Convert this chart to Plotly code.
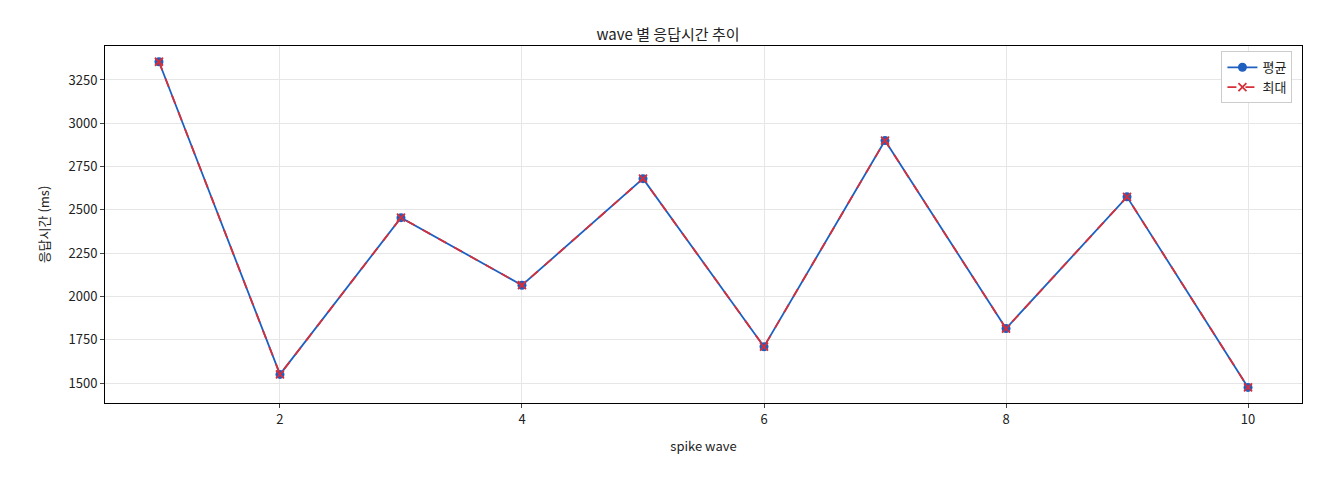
import plotly.graph_objects as go

waves = [1, 2, 3, 4, 5, 6, 7, 8, 9, 10]
avg_ms = [3355, 1550, 2455, 2065, 2680, 1710, 2900, 1815, 2575, 1475]
max_ms = [3355, 1550, 2455, 2065, 2680, 1710, 2900, 1815, 2575, 1475]

fig = go.Figure()
fig.add_trace(go.Scatter(x=waves, y=avg_ms, mode='lines+markers', name='평균',
                         line=dict(color='#1f5fbf', width=1.8),
                         marker=dict(symbol='circle', size=9, color='#1f5fbf')))
fig.add_trace(go.Scatter(x=waves, y=max_ms, mode='lines+markers', name='최대',
                         line=dict(color='#d62f3a', width=1.8, dash='dash'),
                         marker=dict(symbol='x-thin', size=8,
                                     line=dict(color='#d62f3a', width=1.8))))

axis = dict(showline=True, linecolor='black', linewidth=1, mirror=True,
            ticks='outside', ticklen=4, gridcolor='#e6e6e6', zeroline=False,
            tickfont=dict(size=13, color='#222'))
fig.update_layout(
    width=1320, height=480,
    font=dict(family='Noto Sans CJK KR', size=13, color='#222'),
    title=dict(text='wave 별 응답시간 추이', x=0.5, xanchor='center', y=0.955,
               font=dict(size=15)),
    plot_bgcolor='white', paper_bgcolor='white',
    margin=dict(l=97, r=26, t=38, b=85),
    xaxis=dict(axis, title=dict(text='spike wave', font=dict(size=13)),
               range=[0.554, 10.446], tickvals=[2, 4, 6, 8, 10]),
    yaxis=dict(axis, title=dict(text='응답시간 (ms)', font=dict(size=13)),
               range=[1385, 3446], dtick=250),
    legend=dict(x=0.992, y=0.985, xanchor='right', yanchor='top',
                bordercolor='#cccccc', borderwidth=1, bgcolor='white',
                font=dict(size=13)),
)
fig.write_html("out.html")
